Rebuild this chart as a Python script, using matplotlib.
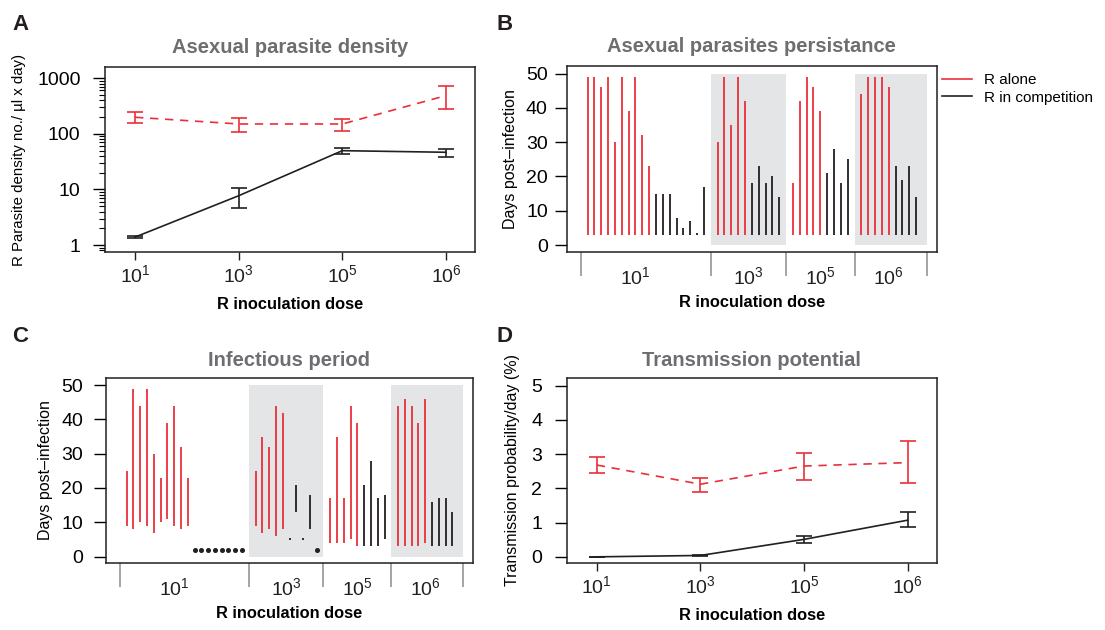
import numpy as np
import matplotlib
matplotlib.use("Agg")
import matplotlib.pyplot as plt
from matplotlib.lines import Line2D

plt.rcParams['font.family'] = ['Liberation Sans', 'DejaVu Sans']
plt.rcParams['mathtext.fontset'] = 'custom'
plt.rcParams['mathtext.rm'] = 'Liberation Sans'
plt.rcParams['mathtext.it'] = 'Liberation Sans:italic'
plt.rcParams['mathtext.bf'] = 'Liberation Sans:bold'

# ---------------- data ----------------
dose_labels = [r'$\mathregular{10^{1}}$', r'$\mathregular{10^{3}}$',
               r'$\mathregular{10^{5}}$', r'$\mathregular{10^{6}}$']

# Panel A: asexual parasite density
density_alone = [198, 150, 150, 485]
density_alone_lo = [158, 107, 112, 275]
density_alone_hi = [244, 195, 185, 724]
density_comp = [1.39, 7.7, 49.7, 46.5]
density_comp_lo = [1.33, 4.7, 43.6, 38.9]
density_comp_hi = [1.45, 10.6, 56, 54]

# Panel D: transmission potential
trans_alone = [2.68, 2.12, 2.65, 2.75]
trans_alone_lo = [2.46, 1.89, 2.25, 2.15]
trans_alone_hi = [2.90, 2.31, 3.04, 3.37]
trans_comp = [0.0, 0.04, 0.51, 1.07]
trans_comp_lo = [0.0, 0.02, 0.39, 0.87]
trans_comp_hi = [0.0, 0.06, 0.60, 1.30]

# Panel B: persistence (last day with asexual parasites), all start on day 3
persist_start = 3
persist_alone = [[49, 49, 46, 49, 30, 49, 39, 49, 32, 23],
                 [30, 49, 35, 49, 42],
                 [18, 42, 49, 46, 39],
                 [44, 49, 49, 49, 46]]
persist_comp = [[15, 15, 15, 8, 5, 7, 3.5, 17],
                [18, 23, 18, 20, 14],
                [21, 28, 18, 25],
                [23, 19, 23, 14]]

# Panel C: infectious period (start, end day)
infect_alone_start = [[9, 8, 10, 9, 7, 10, 11, 9, 8, 9],
                      [9, 7, 8, 6, 8],
                      [4, 4, 4, 5, 3],
                      [3, 3, 3, 3, 4]]
infect_alone_end = [[25, 49, 44, 49, 30, 23, 39, 44, 32, 23],
                    [25, 35, 32, 44, 42],
                    [17, 35, 17, 44, 39],
                    [44, 46, 44, 39, 46]]
infect_comp_start = [[2, 2, 2, 2, 2, 2, 2, 2],
                     [4.9, 13, 4.9, 8, 2],
                     [3, 3, 3, 5],
                     [3, 3, 3, 3]]
infect_comp_end = [[2, 2, 2, 2, 2, 2, 2, 2],
                   [5.4, 21, 5.4, 18, 2],
                   [21, 28, 17, 18],
                   [16, 17, 17, 13]]

RED = '#EA2F39'
BLK = '#231F20'
GREY_T = '#6D6E71'
SHADE = '#E4E5E7'
W, H = 1105, 630

fig = plt.figure(figsize=(W / 100, H / 100), dpi=100)


def rect(l, t, r, b):
    return [l / W, 1 - b / H, (r - l) / W, (b - t) / H]


axA = fig.add_axes(rect(105, 67, 475, 252))
axB = fig.add_axes(rect(566.7, 66, 936.7, 251.7))
axC = fig.add_axes(rect(106, 378.3, 472.7, 562.7))
axD = fig.add_axes(rect(566.7, 378, 936.7, 563))

for ax in (axA, axB, axC, axD):
    for s in ax.spines.values():
        s.set_linewidth(1.1)
        s.set_color(BLK)

TICK_FS = 14
TITLE_FS = 14.5
LAB_FS = 11.8


def line_panel(ax, alone, alo, ahi, comp, clo, chi):
    x = np.arange(1, 5)
    ax.errorbar(x, alone, yerr=[np.array(alone) - np.array(alo), np.array(ahi) - np.array(alone)],
                color=RED, ls=(0, (5, 4)), lw=1.2, capsize=6, capthick=1.2, elinewidth=1.2)
    ax.errorbar(x, comp, yerr=[np.array(comp) - np.array(clo), np.array(chi) - np.array(comp)],
                color=BLK, ls='-', lw=1.2, capsize=6, capthick=1.2, elinewidth=1.2)
    ax.set_xlim(0.71, 4.28)
    ax.set_xticks(x)
    ax.set_xticklabels(dose_labels)
    ax.tick_params(axis='x', length=5.8, width=1.0, pad=3, labelsize=TICK_FS, colors=BLK)
    ax.set_xlabel('R inoculation dose', fontsize=LAB_FS, fontweight='bold', labelpad=8)


# ---- Panel A ----
line_panel(axA, density_alone, density_alone_lo, density_alone_hi,
           density_comp, density_comp_lo, density_comp_hi)
axA.set_yscale('log')
axA.set_ylim(0.75, 1585)
axA.set_yticks([1, 10, 100, 1000])
axA.set_yticklabels(['1', '10', '100', '1000'])
axA.yaxis.set_minor_locator(matplotlib.ticker.LogLocator(base=10, subs=np.arange(2, 10)))
axA.yaxis.set_minor_formatter(matplotlib.ticker.NullFormatter())
axA.tick_params(axis='y', which='major', length=8.6, width=1.0, pad=9, labelsize=TICK_FS)
axA.tick_params(axis='y', which='minor', length=4, width=0.8)
axA.set_ylabel('R Parasite density no./ µl x day)', fontsize=10.8, labelpad=8)
axA.set_title('Asexual parasite density', fontsize=TITLE_FS, fontweight='bold', color=GREY_T, pad=10)

# ---- Panel D ----
line_panel(axD, trans_alone, trans_alone_lo, trans_alone_hi,
           trans_comp, trans_comp_lo, trans_comp_hi)
axD.set_ylim(-0.18, 5.22)
axD.set_yticks([0, 1, 2, 3, 4, 5])
axD.tick_params(axis='y', length=8.6, width=1.0, pad=9, labelsize=TICK_FS)
axD.set_ylabel('Transmission probability/day (%)', fontsize=11.5, labelpad=8)
axD.set_title('Transmission potential', fontsize=TITLE_FS, fontweight='bold', color=GREY_T, pad=9)


# ---- bar panels B and C ----
def group_positions(groups_a, groups_b):
    pos_a, pos_b, bounds, centers = [], [], [-1], []
    cur = 0
    for ga, gb in zip(groups_a, groups_b):
        start = cur
        pa = list(range(cur, cur + len(ga)))
        cur += len(ga)
        pb = list(range(cur, cur + len(gb)))
        cur += len(gb)
        pos_a.append(pa)
        pos_b.append(pb)
        centers.append((start + cur - 1) / 2)
        bounds.append(cur)
        cur += 1
    bounds[-1] = bounds[-1] + 0.6
    centers[0] = centers[0] - 1.5
    return pos_a, pos_b, bounds, centers


def bar_axes(ax, bounds, centers, ylim):
    ax.set_xlim(-3.05, 51.0)
    ax.set_ylim(*ylim)
    for i in (1, 3):
        ax.fill_between([bounds[i], bounds[i + 1]], 0, 50, color=SHADE, lw=0, zorder=0)
    ax.set_xticks(bounds)
    ax.set_xticklabels([''] * len(bounds))
    ax.tick_params(axis='x', which='major', length=17.5, width=1.1, color='#8A8B8D', pad=0)
    ax.set_xticks(centers, minor=True)
    ax.set_xticklabels(dose_labels, minor=True)
    ax.tick_params(axis='x', which='minor', length=0, pad=10.5, labelsize=TICK_FS, colors=BLK)
    ax.set_yticks([0, 10, 20, 30, 40, 50])
    ax.set_ylabel('Days post\u2013infection', fontsize=11.5, labelpad=6)
    ax.set_xlabel('R inoculation dose', fontsize=LAB_FS, fontweight='bold', labelpad=5)


# Panel B
pa, pb, bB, cB = group_positions(persist_alone, persist_comp)
bar_axes(axB, bB, cB, (-1.95, 52.2))
for g in range(4):
    axB.vlines(pa[g], persist_start, persist_alone[g], color=RED, lw=1.3, zorder=2)
    axB.vlines(pb[g], persist_start, persist_comp[g], color=BLK, lw=1.3, zorder=2)
axB.tick_params(axis='y', length=8.6, width=1.0, pad=5, labelsize=TICK_FS)
axB.set_title('Asexual parasites persistance', fontsize=TITLE_FS, fontweight='bold', color=GREY_T, pad=10)

# Panel C
pa, pb, bC, cC = group_positions(infect_alone_start, infect_comp_start)
bar_axes(axC, bC, cC, (-1.8, 52.0))
for g in range(4):
    axC.vlines(pa[g], infect_alone_start[g], infect_alone_end[g], color=RED, lw=1.3, zorder=2)
    s = np.array(infect_comp_start[g], float)
    e = np.array(infect_comp_end[g], float)
    p = np.array(pb[g], float)
    bar = e > s
    axC.vlines(p[bar], s[bar], e[bar], color=BLK, lw=1.3, zorder=2)
    axC.plot(p[~bar], s[~bar], 'o', color=BLK, ms=2.6, zorder=3)
axC.tick_params(axis='y', length=8.6, width=1.0, pad=8, labelsize=TICK_FS)
axC.set_title('Infectious period', fontsize=TITLE_FS, fontweight='bold', color=GREY_T, pad=9)

# legend
handles = [Line2D([], [], color=RED, lw=1.2), Line2D([], [], color=BLK, lw=1.2)]
fig.legend(handles, ['R alone', 'R in competition'], loc='upper left',
           bbox_to_anchor=(942 / W, 1 - 73 / H), frameon=False, fontsize=11,
           handlelength=1.95, handletextpad=0.8, borderpad=0, borderaxespad=0,
           labelspacing=0.25)

# panel letters
for letter, x, y in (('A', 12, 30), ('B', 496, 30), ('C', 12, 342), ('D', 496, 342)):
    fig.text(x / W, 1 - y / H, letter, fontsize=16, fontweight='bold', color=BLK,
             ha='left', va='baseline')

fig.savefig('out.png', dpi=100)
